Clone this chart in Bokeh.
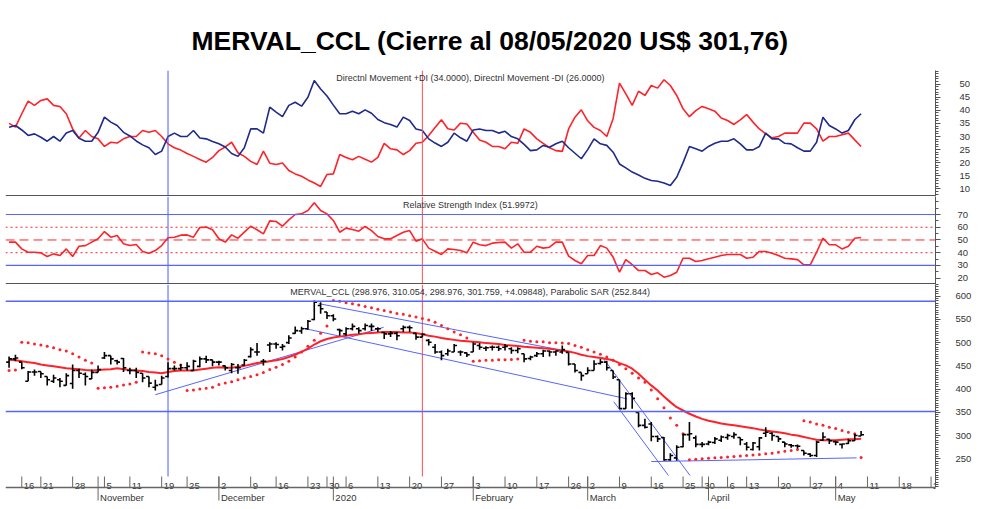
from bokeh.plotting import figure
from bokeh.layouts import column
from bokeh.models import Range1d, LinearAxis, FixedTicker, Span, ColumnDataSource, Title, Label
from bokeh.embed import file_html
from bokeh.resources import INLINE
from bokeh.core.properties import value

# ---------------- data (trading-day index 0 = first bar, 11-Oct-2019) ----------------
opens = [458, 465, 458, 417, 437, 438, 427, 417, 420, 408,
         412, 440, 432, 422, 436, 467, 472, 461, 466, 440,
         440, 434, 427, 404, 410, 427, 444, 444, 446, 440,
         449, 465, 463, 458, 450, 440, 446, 452, 470, 480,
         460, 495, 497, 490, 500, 520, 525, 530, 550, 580,
         566, 558, 528, 519, 530, 530, 530, 535, 530, 522,
         519, 520, 530, 533, 520, 512, 505, 490, 480, 476,
         480, 480, 478, 480, 494, 488, 490, 490, 490, 487,
         483, 476, 466, 472, 476, 482, 480, 480, 479, 454,
         436, 433, 440, 455, 458, 440, 420, 358, 390, 350,
         322, 325, 298, 296, 248, 252, 276, 302, 295, 281,
         282, 285, 290, 296, 298, 296, 282, 270, 276, 305,
         305, 298, 286, 280, 278, 268, 260, 257, 290, 292,
         287, 281, 283, 289, 298.976]
highs = [470, 474, 458, 439, 442, 438, 427, 431, 424, 434,
         453, 444, 436, 442, 451, 480, 472, 463, 467, 446,
         446, 434, 427, 420, 429, 458, 451, 454, 458, 463,
         470, 472, 463, 461, 451, 456, 454, 465, 490, 499,
         465, 501, 501, 497, 516, 535, 534, 549, 591, 587,
         566, 561, 530, 533, 541, 533, 541, 541, 533, 523,
         525, 523, 537, 537, 520, 520, 508, 497, 483, 487,
         497, 483, 479, 501, 499, 492, 494, 494, 497, 490,
         490, 476, 472, 480, 485, 483, 483, 494, 479, 454,
         436, 447, 462, 465, 461, 440, 420, 393, 393, 350,
         336, 329, 300, 297, 262, 279, 304, 329, 300, 286,
         289, 297, 300, 304, 307, 296, 286, 286, 297, 318,
         307, 298, 286, 282, 281, 268, 262, 289, 307, 293,
         289, 282, 293, 304, 310.054]
lows = [446, 460, 443, 417, 429, 424, 408, 413, 404, 408,
        401, 424, 408, 422, 436, 465, 453, 453, 437, 432,
        424, 415, 404, 397, 410, 425, 440, 440, 440, 439,
        447, 456, 449, 451, 440, 434, 433, 451, 468, 472,
        451, 480, 487, 483, 497, 519, 519, 528, 548, 562,
        551, 546, 515, 515, 526, 519, 526, 525, 523, 508,
        512, 505, 523, 523, 506, 512, 494, 476, 462, 472,
        480, 472, 469, 480, 485, 482, 483, 482, 483, 476,
        477, 458, 462, 469, 469, 470, 472, 476, 451, 436,
        418, 433, 440, 453, 440, 422, 358, 358, 358, 318,
        315, 288, 286, 246, 246, 246, 275, 289, 275, 275,
        279, 282, 286, 291, 293, 279, 268, 268, 268, 297,
        289, 286, 275, 274, 272, 257, 254, 254, 289, 282,
        279, 272, 282, 289, 298.976]
closes = [465, 467, 446, 437, 437, 433, 420, 424, 417, 429,
          440, 434, 427, 436, 442, 472, 465, 458, 446, 440,
          436, 424, 413, 408, 424, 444, 444, 446, 449, 460,
          465, 463, 458, 458, 446, 453, 446, 462, 485, 480,
          460, 497, 496, 492, 510, 526, 530, 546, 587, 573,
          558, 551, 526, 530, 535, 526, 537, 535, 530, 519,
          520, 515, 533, 532, 512, 518, 501, 480, 472, 482,
          494, 480, 474, 497, 490, 489, 490, 487, 492, 483,
          487, 465, 469, 476, 482, 480, 482, 485, 454, 440,
          429, 440, 454, 458, 446, 426, 358, 390, 380, 322,
          318, 298, 293, 248, 257, 275, 302, 304, 281, 281,
          286, 293, 297, 300, 302, 291, 275, 284, 295, 307,
          300, 293, 282, 278, 277, 262, 257, 286, 297, 289,
          286, 282, 289, 300, 301.759]
moving_avg = [463, 462, 460, 458, 456, 453, 451, 449, 447, 445,
              444, 443, 441, 440, 441, 442, 443, 445, 443, 441,
              440, 439, 437, 436, 434, 437, 439, 440, 440, 440,
              442, 444, 446, 447, 446, 446, 448, 450, 453, 456,
              458, 460, 462, 465, 469, 474, 480, 487, 496, 503,
              508, 511, 513, 515, 517, 518, 520, 521, 522, 523,
              523, 523, 522, 522, 521, 518, 515, 513, 510, 508,
              506, 504, 503, 502, 501, 499, 498, 497, 495, 494,
              493, 491, 490, 489, 488, 487, 485, 483, 481, 478,
              474, 471, 469, 467, 465, 462, 456, 451, 444, 433,
              420, 408, 397, 384, 372, 361, 354, 347, 341, 336,
              332, 329, 326, 324, 322, 320, 318, 316, 313, 311,
              309, 307, 305, 302, 300, 297, 294, 291, 290, 290,
              290, 291, 292, 292, 293]
sar = [440, 441, 501, 500, 497, 495, 492, 489, 485, 482,
       476, 469, 462, 456, 402, 403, 404, 406, 409, 411,
       415, 480, 478, 476, 472, 465, 458, 452, 397, 398,
       400, 402, 404, 410, 413, 416, 420, 424, 427, 431,
       436, 442, 447, 453, 460, 469, 480, 492, 505, 520,
       536, 591, 589, 586, 584, 581, 578, 575, 572, 569,
       566, 563, 561, 558, 555, 552, 549, 544, 537, 530,
       523, 517, 510, 460, 461, 462, 462, 463, 463, 464,
       465, 505, 503, 502, 502, 500, 500, 499, 498, 494,
       490, 485, 480, 475, 469, 462, 453, 444, 434, 424,
       415, 398, 379, 360, 338, 322, 304, 248, 249, 250,
       251, 252, 253, 254, 255, 256, 257, 258, 259, 261,
       262, 264, 266, 268, 270, 332, 329, 325, 322, 318,
       315, 311, 307, 304, 252.844]
plus_di = [33.5, 34.2, 32.5, 30.4, 31.0, 29.7, 28.2, 30.0, 28.2, 31.3,
           32.3, 29.3, 28.2, 28.2, 31.6, 37.4, 35.5, 34.2, 31.6, 30.2,
           28.3, 26.8, 25.7, 23.1, 24.4, 30.0, 31.3, 30.0, 30.0, 32.3,
           29.4, 29.1, 28.1, 27.2, 26.0, 23.5, 22.4, 25.7, 32.9, 32.9,
           31.3, 41.2, 39.3, 37.6, 41.9, 43.1, 41.6, 45.0, 51.4, 48.2,
           45.5, 42.0, 38.7, 38.7, 39.7, 38.7, 40.2, 38.9, 36.5, 35.3,
           34.6, 33.6, 37.4, 36.1, 32.9, 32.3, 29.1, 27.5, 26.2, 27.8,
           31.3, 29.5, 28.2, 32.5, 32.9, 32.3, 32.3, 31.3, 32.0, 30.0,
           29.1, 27.0, 24.6, 24.9, 26.6, 25.9, 27.2, 28.2, 25.7, 23.6,
           21.5, 25.0, 29.1, 27.2, 26.6, 24.0, 19.5, 18.0, 16.4, 15.3,
           14.0, 13.2, 12.9, 12.2, 11.3, 14.4, 20.0, 26.2, 25.3, 24.4,
           26.2, 27.4, 28.2, 28.2, 29.1, 27.2, 24.9, 24.9, 26.2, 31.3,
           29.1, 29.1, 27.4, 27.2, 25.7, 24.4, 24.4, 27.8, 37.4, 34.2,
           32.9, 31.3, 32.3, 36.4, 38.7]
minus_di = [35.0, 33.6, 38.7, 43.5, 41.9, 43.8, 44.4, 41.9, 41.5, 38.7,
            32.9, 29.4, 32.3, 30.0, 29.1, 26.2, 27.8, 27.5, 29.1, 30.0,
            30.0, 32.3, 31.6, 32.3, 30.0, 27.2, 25.7, 24.8, 23.5, 22.4,
            21.2, 20.2, 22.0, 24.6, 26.0, 27.8, 23.8, 22.4, 20.5, 19.3,
            24.4, 19.8, 19.3, 19.9, 17.0, 15.7, 14.8, 13.4, 12.2, 10.9,
            15.5, 15.7, 23.1, 22.0, 21.1, 22.4, 21.3, 20.2, 22.0, 27.4,
            25.3, 24.9, 23.1, 24.6, 27.4, 27.8, 30.4, 33.4, 36.4, 33.0,
            32.5, 35.1, 34.8, 31.6, 28.7, 27.8, 26.2, 26.2, 25.3, 27.8,
            27.4, 32.9, 31.6, 29.1, 27.4, 25.7, 24.6, 24.3, 32.9, 37.4,
            40.2, 36.0, 33.5, 32.3, 30.0, 36.8, 50.4, 46.3, 41.9, 47.3,
            45.7, 49.5, 48.5, 51.7, 49.5, 45.7, 40.6, 37.6, 39.9, 41.5,
            40.6, 39.7, 37.1, 36.1, 34.6, 36.4, 38.4, 35.5, 32.9, 31.0,
            29.5, 30.0, 31.3, 31.3, 31.3, 35.1, 35.1, 32.9, 28.2, 30.0,
            30.0, 30.7, 31.3, 28.7, 26.2]
rsi = [48.3, 48.3, 43.0, 40.4, 40.4, 39.9, 37.0, 39.1, 37.8, 43.0,
       37.0, 45.1, 45.6, 48.3, 50.9, 56.6, 52.2, 53.5, 47.0, 45.6,
       46.4, 40.9, 39.6, 41.7, 45.6, 51.7, 52.2, 53.8, 54.0, 52.2,
       59.8, 60.1, 58.0, 50.9, 48.3, 54.0, 51.4, 56.1, 60.8, 58.0,
       54.8, 65.0, 64.5, 60.8, 65.8, 70.0, 70.5, 73.2, 79.2, 73.2,
       70.5, 65.3, 56.1, 59.3, 58.2, 56.9, 60.6, 57.4, 52.7, 50.9,
       50.9, 53.5, 56.1, 57.4, 49.1, 50.9, 43.6, 41.2, 38.6, 43.0,
       42.5, 41.7, 39.9, 48.3, 46.2, 45.6, 47.5, 48.0, 48.3, 43.6,
       47.0, 40.4, 40.4, 45.1, 43.6, 44.3, 48.3, 48.3, 37.3, 33.9,
       31.3, 37.8, 37.8, 45.6, 43.6, 36.5, 24.7, 34.6, 30.7, 26.0,
       26.0, 22.9, 24.2, 20.8, 22.1, 24.7, 35.7, 35.7, 33.1, 33.9,
       35.2, 36.5, 37.8, 38.6, 38.6, 38.6, 35.7, 36.5, 41.0, 41.0,
       39.6, 37.8, 35.7, 35.2, 34.6, 30.5, 30.5, 40.4, 51.4, 46.2,
       46.2, 43.0, 45.1, 51.4, 52.0]

# trend lines drawn on the price panel: (x0, y0) -> (x1, y1)
trend_x0 = [23.0, 48.7, 46.3, 93.3, 95.1, 101.0]
trend_y0 = [388, 584, 531, 469, 373, 244]
trend_x1 = [58.9, 87.2, 97.2, 107.1, 103.7, 133.3]
trend_y1 = [533, 483, 379, 214, 214, 252]
price_levels = [589, 352]
marker_days = [25, 65]          # 20-Nov-2019 (blue), 22-Jan-2020 (red)
marker_colors = ["#4a5cff", "#ff4d4d"]
rsi_solid = [70, 30]
rsi_dotted = [60, 40]
rsi_dashed = [50]

day_idx = [2, 5, 10, 15, 19, 24, 28, 33, 38, 42, 47, 50, 53, 58, 63, 68, 73, 78, 83, 88,
           91, 96, 101, 106, 109, 113, 116, 121, 126, 130, 135, 140, 145]
day_labels = ["16", "21", "28", "5", "11", "19", "25", "2", "9", "16", "23", "30", "6", "13",
              "20", "27", "3", "10", "17", "26", "2", "9", "16", "25", "30", "6", "13", "20",
              "27", "4", "11", "18", "25"]
month_idx = [14, 33, 51, 73, 91, 110, 130]
month_labels = ["November", "December", "2020", "February", "March", "April", "May"]

title_text = "MERVAL_CCL (Cierre al 08/05/2020 US$ 301,76)"
dmi_text = "Directnl Movement +DI (34.0000), Directnl Movement -DI (26.0000)"
rsi_text = "Relative Strength Index (51.9972)"
price_text = "MERVAL_CCL (298.976, 310.054, 298.976, 301.759, +4.09848), Parabolic SAR (252.844)"

# ---------------- layout ----------------
W = 981
FONT = "Liberation Sans"
AX = "#555555"
BLUE_DI = "#1f2a8c"
RED = "#ff2229"
LBLUE = "#5566ff"
X_RANGE = Range1d(-0.56, 145.7)
idx = list(range(len(closes)))


def make_fig(height, y0, y1, top=0):
    p = figure(width=W, height=height, x_range=X_RANGE, y_range=Range1d(y0, y1),
               output_backend="svg", toolbar_location=None, tools="",
               x_axis_location=None, y_axis_location=None,
               min_border_left=5, min_border_right=46, min_border_top=top, min_border_bottom=0)
    p.grid.visible = False
    p.outline_line_color = None
    p.background_fill_color = "white"
    p.border_fill_color = "white"
    return p


def right_axis(p, ticks, minor, standoff, bounds=None):
    ax = LinearAxis(ticker=FixedTicker(ticks=ticks, minor_ticks=minor),
                    axis_line_color=AX, axis_line_width=1,
                    major_tick_line_color=AX, minor_tick_line_color=AX,
                    major_tick_out=5, major_tick_in=0, minor_tick_out=3, minor_tick_in=0,
                    major_label_text_font=FONT, major_label_text_font_size="9.5px",
                    major_label_text_color="#333333", major_label_standoff=standoff)
    if bounds is not None:
        ax.bounds = bounds
    p.add_layout(ax, "right")


# ---- DMI panel ----
D0, D1 = 7.06, 55.24
p1 = make_fig(196, D0, D1, top=70)
p1.add_layout(Title(text=title_text, align="left", offset=186, standoff=27,
                    vertical_align="middle",
                    text_font="Liberation Sans", text_font_size="26.5px",
                    text_font_style="bold", text_color="black"), "above")
right_axis(p1, list(range(10, 51, 5)), list(range(7, 56)), 19)
for xv, col in zip(marker_days, marker_colors):
    p1.add_layout(Span(location=xv, dimension="height", line_color=col, line_width=1))
p1.add_layout(Span(location=D0 + 0.25, dimension="width", line_color=AX, line_width=1.5))
p1.line(idx, minus_di, line_color=RED, line_width=1.6)
p1.line(idx, plus_di, line_color=BLUE_DI, line_width=1.6)
p1.add_layout(Label(x=72.55, y=52.2, text=dmi_text, text_align="center", text_baseline="middle",
                    text_font=FONT, text_font_size="9px", text_color="#333333"))

# ---- RSI panel ----
R0, R1 = 15.05, 84.13
p2 = make_fig(88, R0, R1)
right_axis(p2, list(range(20, 71, 10)), list(range(15, 85, 5)), 17)
for xv, col in zip(marker_days, marker_colors):
    p2.add_layout(Span(location=xv, dimension="height", line_color=col, line_width=1))
for lv in rsi_solid:
    p2.add_layout(Span(location=lv, dimension="width", line_color=LBLUE, line_width=1.2))
for lv in rsi_dotted:
    p2.add_layout(Span(location=lv, dimension="width", line_color=RED, line_width=1, line_dash="2 3"))
for lv in rsi_dashed:
    p2.add_layout(Span(location=lv, dimension="width", line_color=RED, line_width=1, line_dash="9 5"))
p2.add_layout(Span(location=R0 + 0.6, dimension="width", line_color=AX, line_width=1.5))
p2.line(idx, rsi, line_color=RED, line_width=1.6)
p2.add_layout(Label(x=72.55, y=77.85, text=rsi_text, text_align="center", text_baseline="middle",
                    text_font=FONT, text_font_size="9px", text_color="#333333"))

# ---- price panel ----
P_SCALE = 0.4646          # px per unit
P1 = 600 + (295.7 - 284) / P_SCALE
P0 = 250 - (509 - 458.3) / P_SCALE


def py(page_y):
    return 600 - (page_y - 295.7) / P_SCALE


p3 = make_fig(225, P0, P1)
right_axis(p3, list(range(250, 601, 50)), list(range(190, 626, 5)), 15, bounds=(py(487), P1))
for lv in price_levels:
    p3.add_layout(Span(location=lv, dimension="width", line_color=LBLUE, line_width=1.5))
p3.segment(x0=marker_days, y0=[py(476)] * 2, x1=marker_days, y1=[P1] * 2,
           line_color=marker_colors, line_width=1)
p3.segment(x0=trend_x0, y0=trend_y0, x1=trend_x1, y1=trend_y1, line_color=LBLUE, line_width=1)
p3.line(idx, moving_avg, line_color=RED, line_width=2)
p3.scatter(idx, sar, size=3, marker="circle", color=RED, line_width=0)

src = ColumnDataSource(dict(x=idx, xl=[i - 0.45 for i in idx], xr=[i + 0.45 for i in idx],
                            o=opens, h=highs, l=lows, c=closes))
p3.segment(x0="x", y0="l", x1="x", y1="h", source=src, line_color="black", line_width=1.6)
p3.segment(x0="xl", y0="o", x1="x", y1="o", source=src, line_color="black", line_width=1.6)
p3.segment(x0="x", y0="c", x1="xr", y1="c", source=src, line_color="black", line_width=1.6)

# date axis drawn inside the bottom strip
p3.add_layout(Span(location=py(487), dimension="width", line_color="#666666", line_width=1.5))
p3.segment(x0=day_idx, y0=[py(476)] * len(day_idx), x1=day_idx, y1=[py(487)] * len(day_idx),
           line_color="#666666", line_width=1)
p3.segment(x0=month_idx, y0=[py(476)] * len(month_idx), x1=month_idx, y1=[py(500)] * len(month_idx),
           line_color="#666666", line_width=1)
p3.text(x=day_idx, y=[py(486)] * len(day_idx), text=day_labels, x_offset=2,
        text_font=value(FONT), text_font_size="9.5px", text_color="#333333",
        text_baseline="alphabetic", text_align="left")
p3.text(x=month_idx, y=[py(497.5)] * len(month_idx), text=month_labels, x_offset=2,
        text_font=value(FONT), text_font_size="9.5px", text_color="#333333",
        text_baseline="alphabetic", text_align="left")
p3.add_layout(Label(x=72.55, y=609.0, text=price_text, text_align="center", text_baseline="middle",
                    text_font=FONT, text_font_size="9px", text_color="#333333"))

layout = column(p1, p2, p3, spacing=0)
open("out.html", "w").write(file_html(layout, INLINE))
